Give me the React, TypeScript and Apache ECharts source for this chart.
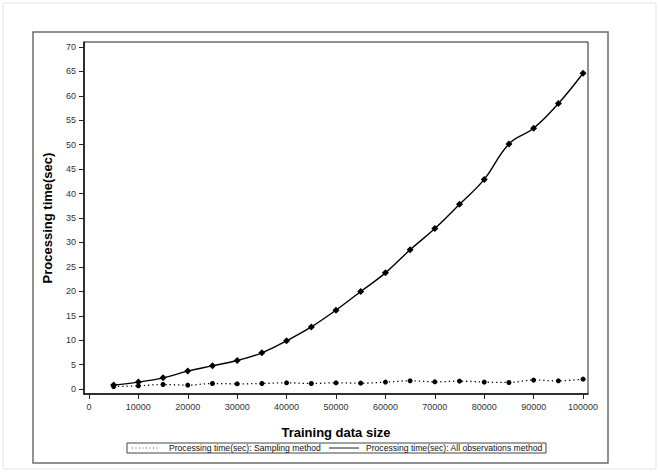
import React, { useEffect, useRef } from "react";
import * as echarts from "echarts";

const xValues = [5000, 10000, 15000, 20000, 25000, 30000, 35000, 40000, 45000, 50000, 55000, 60000, 65000, 70000, 75000, 80000, 85000, 90000, 95000, 100000];
const samplingTimes = [0.53, 0.67, 0.94, 0.82, 1.15, 1.08, 1.15, 1.29, 1.15, 1.29, 1.22, 1.43, 1.7, 1.49, 1.63, 1.43, 1.36, 1.84, 1.7, 2.04];
const allObsTimes = [0.82, 1.43, 2.3, 3.68, 4.76, 5.85, 7.42, 9.88, 12.72, 16.15, 19.96, 23.78, 28.5, 32.85, 37.8, 42.9, 50.15, 53.35, 58.4, 64.6];
const xTicks = [0, 10000, 20000, 30000, 40000, 50000, 60000, 70000, 80000, 90000, 100000];
const yTicks = [0, 5, 10, 15, 20, 25, 30, 35, 40, 45, 50, 55, 60, 65, 70];
const seriesNames = ["Processing time(sec): Sampling method", "Processing time(sec): All observations method"];
const xTitle = "Training data size";
const yTitle = "Processing time(sec)";

const FONT = "'Liberation Sans', Arial, sans-serif";

export default function App() {
  const ref = useRef<HTMLDivElement>(null);
  useEffect(() => {
    if (!ref.current) return;
    const chart = echarts.init(ref.current, null, { renderer: "svg" });
    chart.setOption({
      animation: false,
      backgroundColor: "#fff",
      grid: {
        left: 84,
        top: 42,
        width: 504,
        height: 352,
        show: true,
        borderColor: "#222",
        borderWidth: 1,
        backgroundColor: "transparent",
      },
      xAxis: {
        type: "value",
        min: -1000,
        max: 101000,
        name: xTitle,
        nameLocation: "middle",
        nameGap: 32,
        nameTextStyle: { fontFamily: FONT, fontSize: 13, fontWeight: "bold", color: "#000" },
        axisLine: { show: true, onZero: false, lineStyle: { color: "#111", width: 1.5 } },
        axisTick: { show: true, length: 5, customValues: xTicks, lineStyle: { color: "#222" } },
        axisLabel: {
          customValues: xTicks,
          margin: 8,
          fontFamily: FONT,
          fontSize: 9,
          color: "#333",
          formatter: (v: number) => String(v),
        },
        splitLine: { show: false },
      },
      yAxis: {
        type: "value",
        min: -1,
        max: 71,
        name: yTitle,
        nameLocation: "middle",
        nameGap: 30,
        nameRotate: 90,
        nameTextStyle: { fontFamily: FONT, fontSize: 13, fontWeight: "bold", color: "#000" },
        axisLine: { show: true, onZero: false, lineStyle: { color: "#111", width: 1.5 } },
        axisTick: { show: true, length: 5, customValues: yTicks, lineStyle: { color: "#222" } },
        axisLabel: {
          customValues: yTicks,
          margin: 8,
          fontFamily: FONT,
          fontSize: 9,
          color: "#333",
          formatter: (v: number) => String(v),
        },
        splitLine: { show: false },
      },
      series: [
        {
          name: seriesNames[0],
          type: "line",
          data: xValues.map((x, i) => [x, samplingTimes[i]]),
          smooth: 0.4,
          symbol: "circle",
          symbolSize: 5,
          itemStyle: { color: "#000" },
          lineStyle: { color: "#000", width: 1.3, type: [1.3, 3] },
        },
        {
          name: seriesNames[1],
          type: "line",
          data: xValues.map((x, i) => [x, allObsTimes[i]]),
          smooth: 0.4,
          symbol: "diamond",
          symbolSize: 7,
          itemStyle: { color: "#000" },
          lineStyle: { color: "#000", width: 1.4 },
        },
      ],
      graphic: [
        {
          type: "rect",
          shape: { x: 3, y: 3, width: 653, height: 466 },
          style: { fill: "none", stroke: "#e4e4e4", lineWidth: 1 },
          silent: true,
        },
        {
          type: "rect",
          shape: { x: 33, y: 32, width: 575, height: 431 },
          style: { fill: "none", stroke: "#6e6e6e", lineWidth: 1.5 },
          silent: true,
        },
        {
          type: "rect",
          shape: { x: 127, y: 443, width: 419, height: 10 },
          style: { fill: "none", stroke: "#444", lineWidth: 1 },
          silent: true,
        },
        {
          type: "line",
          shape: { x1: 132, y1: 448, x2: 160, y2: 448 },
          style: { stroke: "#555", lineWidth: 1, lineDash: [1, 2.5] },
          silent: true,
        },
        {
          type: "text",
          x: 169,
          y: 448,
          style: { text: seriesNames[0], fontFamily: FONT, fontSize: 8.6, fill: "#111", verticalAlign: "middle" },
          silent: true,
        },
        {
          type: "line",
          shape: { x1: 329, y1: 448, x2: 359, y2: 448 },
          style: { stroke: "#222", lineWidth: 1 },
          silent: true,
        },
        {
          type: "text",
          x: 366,
          y: 448,
          style: { text: seriesNames[1], fontFamily: FONT, fontSize: 8.6, fill: "#111", verticalAlign: "middle" },
          silent: true,
        },
      ],
    });
    return () => chart.dispose();
  }, []);
  return (
    <div
      ref={ref}
      style={{ position: "fixed", left: 0, top: 0, width: 659, height: 472, background: "#fff" }}
    />
  );
}
